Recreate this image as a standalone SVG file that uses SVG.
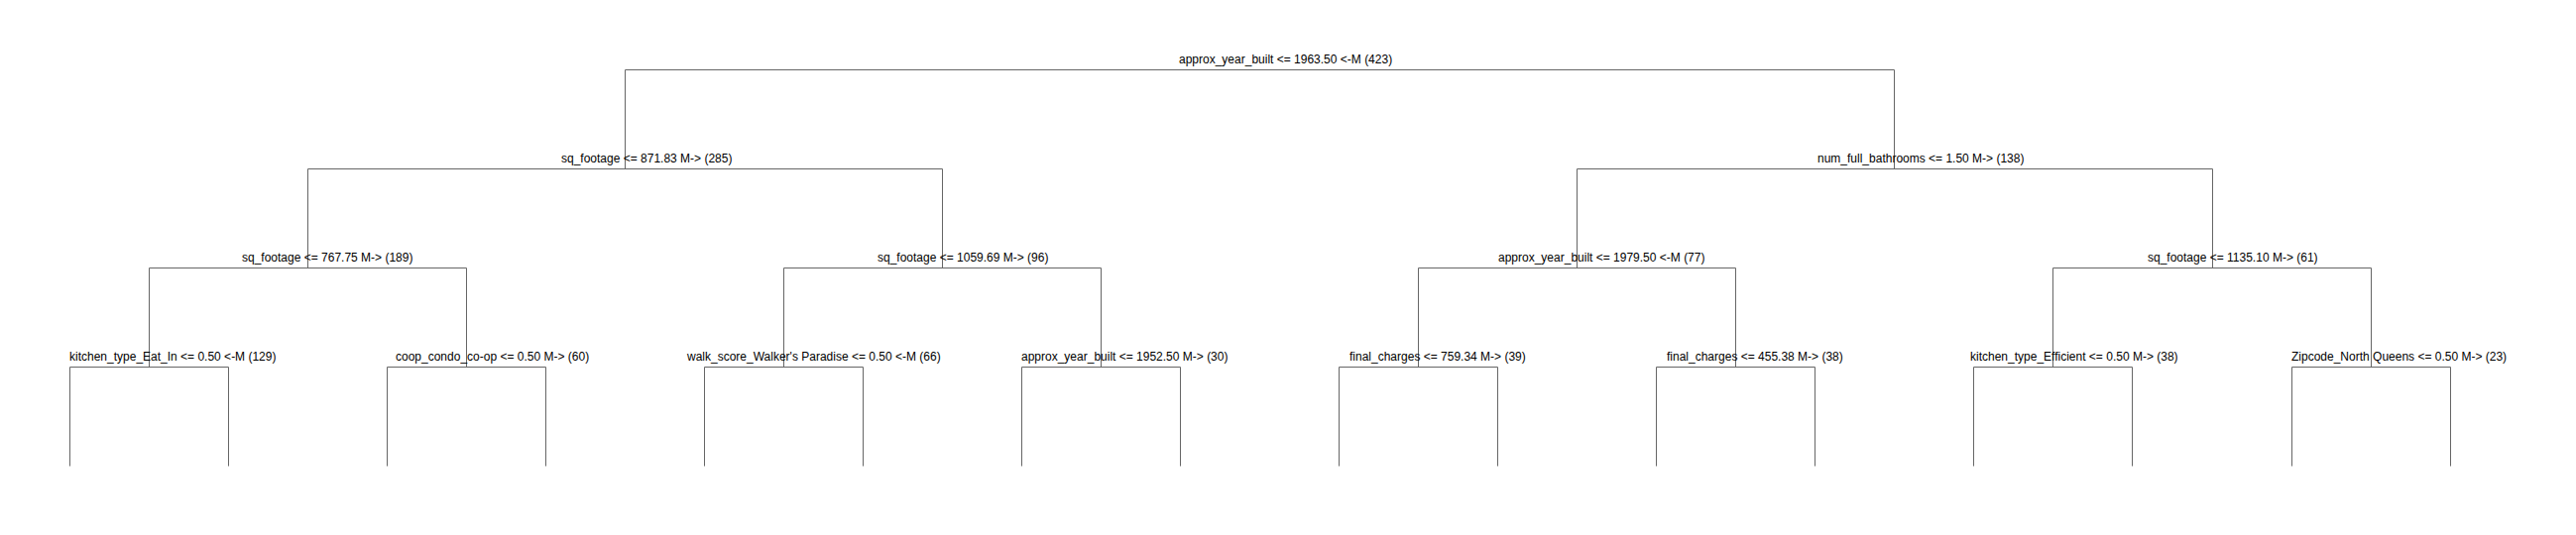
<svg xmlns="http://www.w3.org/2000/svg" width="2598" height="540" viewBox="0 0 2598 540">
<style>
.lbl{font-family:"Liberation Sans",Arial,sans-serif;font-size:12px;fill:#000}
.edge{fill:none;stroke:#666;stroke-width:1}
</style>
<rect width="2598" height="540" fill="#fff"/>
<g id="connectors">
<path class="edge" d="M630.5,170.5V70.5H1910.5V170.5"/>
<path class="edge" d="M310.5,270.5V170.5H950.5V270.5"/>
<path class="edge" d="M1590.5,270.5V170.5H2231.5V270.5"/>
<path class="edge" d="M150.5,370.5V270.5H470.5V370.5"/>
<path class="edge" d="M790.5,370.5V270.5H1110.5V370.5"/>
<path class="edge" d="M1430.5,370.5V270.5H1750.5V370.5"/>
<path class="edge" d="M2070.5,370.5V270.5H2391.5V370.5"/>
<path class="edge" d="M70.5,470.5V370.5H230.5V470.5"/>
<path class="edge" d="M390.5,470.5V370.5H550.5V470.5"/>
<path class="edge" d="M710.5,470.5V370.5H870.5V470.5"/>
<path class="edge" d="M1030.5,470.5V370.5H1190.5V470.5"/>
<path class="edge" d="M1350.5,470.5V370.5H1510.5V470.5"/>
<path class="edge" d="M1670.5,470.5V370.5H1830.5V470.5"/>
<path class="edge" d="M1990.5,470.5V370.5H2150.5V470.5"/>
<path class="edge" d="M2311.5,470.5V370.5H2471.5V470.5"/>
</g>
<g id="n_root"><text class="lbl" x="1189" y="64">approx_year_built &lt;= 1963.50 &lt;-M (423)</text></g>
<g id="n_L"><text class="lbl" x="566" y="164">sq_footage &lt;= 871.83 M-&gt; (285)</text></g>
<g id="n_R"><text class="lbl" x="1833" y="164">num_full_bathrooms &lt;= 1.50 M-&gt; (138)</text></g>
<g id="n_LL"><text class="lbl" x="244" y="264">sq_footage &lt;= 767.75 M-&gt; (189)</text></g>
<g id="n_LR"><text class="lbl" x="885" y="264">sq_footage &lt;= 1059.69 M-&gt; (96)</text></g>
<g id="n_RL"><text class="lbl" x="1511" y="264">approx_year_built &lt;= 1979.50 &lt;-M (77)</text></g>
<g id="n_RR"><text class="lbl" x="2166" y="264">sq_footage &lt;= 1135.10 M-&gt; (61)</text></g>
<g id="n_LLL"><text class="lbl" x="70" y="364">kitchen_type_Eat_In &lt;= 0.50 &lt;-M (129)</text></g>
<g id="n_LLR"><text class="lbl" x="399" y="364">coop_condo_co-op &lt;= 0.50 M-&gt; (60)</text></g>
<g id="n_LRL"><text class="lbl" x="693" y="364">walk_score_Walker's Paradise &lt;= 0.50 &lt;-M (66)</text></g>
<g id="n_LRR"><text class="lbl" x="1030" y="364">approx_year_built &lt;= 1952.50 M-&gt; (30)</text></g>
<g id="n_RLL"><text class="lbl" x="1361" y="364">final_charges &lt;= 759.34 M-&gt; (39)</text></g>
<g id="n_RLR"><text class="lbl" x="1681" y="364">final_charges &lt;= 455.38 M-&gt; (38)</text></g>
<g id="n_RRL"><text class="lbl" x="1987" y="364">kitchen_type_Efficient &lt;= 0.50 M-&gt; (38)</text></g>
<g id="n_RRR"><text class="lbl" x="2311" y="364">Zipcode_North Queens &lt;= 0.50 M-&gt; (23)</text></g>
</svg>
